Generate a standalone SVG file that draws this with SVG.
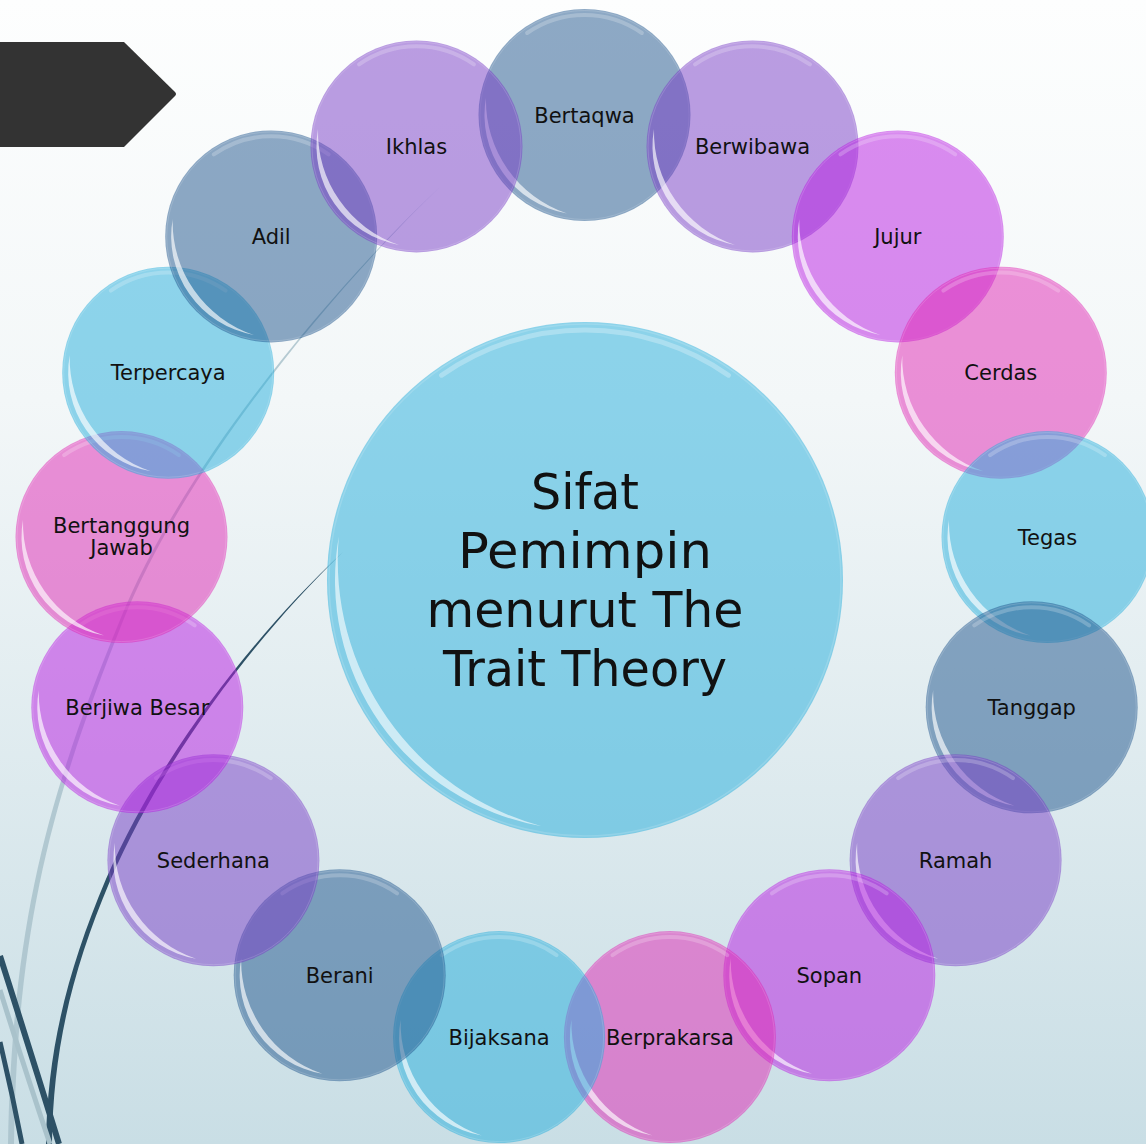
<svg xmlns="http://www.w3.org/2000/svg" xmlns:xlink="http://www.w3.org/1999/xlink" width="1146" height="1144" viewBox="0 0 1146 1144">
<defs>
<linearGradient id="bg" x1="0" y1="0" x2="0" y2="1">
<stop offset="0" stop-color="#fdfefe"/>
<stop offset="0.35" stop-color="#f3f7f8"/>
<stop offset="1" stop-color="#c9dee5"/>
</linearGradient>
<g id="gloss">
<circle r="104.5" fill="none" stroke="#ffffff" stroke-opacity="0.15" stroke-width="1"/>
<path d="M-98.5,-17.4 A100,100 0 0 0 -17.4,98.5 A119,119 0 0 1 -98.5,-17.4 Z" fill="#ffffff" fill-opacity="0.65"/>
<path d="M-57.4,-82 A100,100 0 0 1 57.4,-82" fill="none" stroke="#ffffff" stroke-opacity="0.22" stroke-width="4" stroke-linecap="round"/>
</g>
<style>
.slate{fill:#1e548b;fill-opacity:.5}
.lav{fill:#783cc5;fill-opacity:.5}
.vio{fill:#b81ae1;fill-opacity:.5}
.pink{fill:#e025b3;fill-opacity:.5}
.sky{fill:#24aedb;fill-opacity:.5}
.lbl{font-family:"DejaVu Sans","Liberation Sans",sans-serif;font-size:21px;fill:#111;text-anchor:middle}
.title{font-family:"DejaVu Sans","Liberation Sans",sans-serif;font-size:49px;fill:#111;text-anchor:middle}
</style>
</defs>
<rect width="1146" height="1144" fill="url(#bg)"/>
<path d="M0,42 L124,42 L175,92 Q177,94 175,96 L124,147 L0,147 Z" fill="#333333"/>
<g id="decor-lines">
<path d="M442,185 C330,290 180,470 120,620 C50,790 12,920 8,1144 L14,1144 C17,920 55,792 123,621 C183,471 331,291 442,185 Z" fill="#a9c2cb" fill-opacity="0.85"/>
<path d="M343,552 C250,639 158,759 106,879 C68,969 47,1050 46,1144 L52,1144 C53,1050 72,971 110,881 C162,761 251,641 343,552 Z" fill="#2d5166"/>
<path d="M0,990 Q25,1070 50,1144" fill="none" stroke="#a9c2cb" stroke-width="5"/>
<path d="M0,956 Q30,1050 59,1144" fill="none" stroke="#2d5166" stroke-width="6"/>
<path d="M0,1042 Q12,1092 22,1144" fill="none" stroke="#2d5166" stroke-width="5"/>
</g>
<g id="center">
<circle cx="585" cy="580" r="258" class="sky"/>
<g transform="translate(585,580)">
<circle r="256" fill="none" stroke="#ffffff" stroke-opacity="0.15" stroke-width="1.5"/>
<path d="M-246.2,-43.4 A250,250 0 0 0 -43.4,246.2 A275,275 0 0 1 -246.2,-43.4 Z" fill="#ffffff" fill-opacity="0.6"/>
<path d="M-143.4,-204.8 A250,250 0 0 1 143.4,-204.8" fill="none" stroke="#ffffff" stroke-opacity="0.28" stroke-width="5" stroke-linecap="round"/>
</g>
<text class="title" x="585" y="509" textLength="108" lengthAdjust="spacingAndGlyphs">Sifat</text>
<text class="title" x="585" y="568" textLength="254" lengthAdjust="spacingAndGlyphs">Pemimpin</text>
<text class="title" x="585" y="627" textLength="317" lengthAdjust="spacingAndGlyphs">menurut The</text>
<text class="title" x="585" y="686" textLength="284" lengthAdjust="spacingAndGlyphs">Trait Theory</text>
</g>
<g id="n-bertaqwa"><circle cx="584.5" cy="115" r="106" class="slate"/><use xlink:href="#gloss" transform="translate(584.5,115)"/><text class="lbl" x="584.5" y="122.5">Bertaqwa</text></g>
<g id="n-berwibawa"><circle cx="752.5" cy="146.4" r="106" class="lav"/><use xlink:href="#gloss" transform="translate(752.5,146.4)"/><text class="lbl" x="752.5" y="153.9">Berwibawa</text></g>
<g id="n-jujur"><circle cx="897.8" cy="236.4" r="106" class="vio"/><use xlink:href="#gloss" transform="translate(897.8,236.4)"/><text class="lbl" x="897.8" y="243.9">Jujur</text></g>
<g id="n-cerdas"><circle cx="1000.8" cy="372.7" r="106" class="pink"/><use xlink:href="#gloss" transform="translate(1000.8,372.7)"/><text class="lbl" x="1000.8" y="380.2">Cerdas</text></g>
<g id="n-tegas"><circle cx="1047.5" cy="537.1" r="106" class="sky"/><use xlink:href="#gloss" transform="translate(1047.5,537.1)"/><text class="lbl" x="1047.5" y="544.6">Tegas</text></g>
<g id="n-tanggap"><circle cx="1031.7" cy="707.3" r="106" class="slate"/><use xlink:href="#gloss" transform="translate(1031.7,707.3)"/><text class="lbl" x="1031.7" y="714.8">Tanggap</text></g>
<g id="n-ramah"><circle cx="955.6" cy="860.2" r="106" class="lav"/><use xlink:href="#gloss" transform="translate(955.6,860.2)"/><text class="lbl" x="955.6" y="867.7">Ramah</text></g>
<g id="n-sopan"><circle cx="829.3" cy="975.3" r="106" class="vio"/><use xlink:href="#gloss" transform="translate(829.3,975.3)"/><text class="lbl" x="829.3" y="982.8">Sopan</text></g>
<g id="n-berprakarsa"><circle cx="669.9" cy="1037.1" r="106" class="pink"/><use xlink:href="#gloss" transform="translate(669.9,1037.1)"/><text class="lbl" x="669.9" y="1044.6">Berprakarsa</text></g>
<g id="n-bijaksana"><circle cx="499.1" cy="1037.1" r="106" class="sky"/><use xlink:href="#gloss" transform="translate(499.1,1037.1)"/><text class="lbl" x="499.1" y="1044.6">Bijaksana</text></g>
<g id="n-berani"><circle cx="339.7" cy="975.3" r="106" class="slate"/><use xlink:href="#gloss" transform="translate(339.7,975.3)"/><text class="lbl" x="339.7" y="982.8">Berani</text></g>
<g id="n-sederhana"><circle cx="213.4" cy="860.2" r="106" class="lav"/><use xlink:href="#gloss" transform="translate(213.4,860.2)"/><text class="lbl" x="213.4" y="867.7">Sederhana</text></g>
<g id="n-berjiwa-besar"><circle cx="137.3" cy="707.3" r="106" class="vio"/><use xlink:href="#gloss" transform="translate(137.3,707.3)"/><text class="lbl" x="137.3" y="714.8">Berjiwa Besar</text></g>
<g id="n-bertanggung-jawab"><circle cx="121.5" cy="537.1" r="106" class="pink"/><use xlink:href="#gloss" transform="translate(121.5,537.1)"/><text class="lbl" x="121.5" y="533">Bertanggung</text><text class="lbl" x="121.5" y="555">Jawab</text></g>
<g id="n-terpercaya"><circle cx="168.2" cy="372.7" r="106" class="sky"/><use xlink:href="#gloss" transform="translate(168.2,372.7)"/><text class="lbl" x="168.2" y="380.2">Terpercaya</text></g>
<g id="n-adil"><circle cx="271.2" cy="236.4" r="106" class="slate"/><use xlink:href="#gloss" transform="translate(271.2,236.4)"/><text class="lbl" x="271.2" y="243.9">Adil</text></g>
<g id="n-ikhlas"><circle cx="416.5" cy="146.4" r="106" class="lav"/><use xlink:href="#gloss" transform="translate(416.5,146.4)"/><text class="lbl" x="416.5" y="153.9">Ikhlas</text></g>
</svg>
